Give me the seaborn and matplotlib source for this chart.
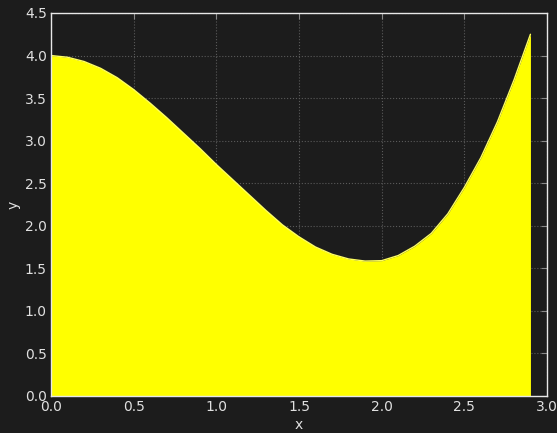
import numpy as np
import matplotlib
matplotlib.use("Agg")
import matplotlib.pyplot as plt
import seaborn as sns

x = [0.0, 0.1, 0.2, 0.3, 0.4, 0.5, 0.6, 0.7, 0.8, 0.9,
     1.0, 1.1, 1.2, 1.3, 1.4, 1.5, 1.6, 1.7, 1.8, 1.9,
     2.0, 2.1, 2.2, 2.3, 2.4, 2.5, 2.6, 2.7, 2.8, 2.9]
y = [4.00, 3.98, 3.93, 3.85, 3.74, 3.60, 3.44, 3.27, 3.09, 2.91,
     2.72, 2.54, 2.36, 2.18, 2.01, 1.87, 1.75, 1.665, 1.61, 1.585,
     1.59, 1.65, 1.76, 1.91, 2.14, 2.45, 2.80, 3.22, 3.71, 4.25]

bg = "#1c1c1c"
fg = "#e0e0e0"

sns.set_theme(style="dark", rc={
    "figure.facecolor": bg,
    "axes.facecolor": bg,
    "axes.edgecolor": "#e8e8e8",
    "axes.labelcolor": fg,
    "xtick.color": fg,
    "ytick.color": fg,
    "text.color": fg,
    "grid.color": "#5a5a5a",
    "grid.linestyle": ":",
    "grid.linewidth": 0.8,
})
plt.rcParams["font.family"] = ["DejaVu Sans"]

fig = plt.figure(figsize=(5.57, 4.33), dpi=100)
ax = fig.add_axes([0.0916, 0.0855, 0.8904, 0.8845])

ax.fill_between(x, y, 0, color="#ffff00", linewidth=0)
sns.lineplot(x=x, y=y, ax=ax, color="#ffff60", linewidth=1.0)

ax.set_xlim(0, 3.0)
ax.set_ylim(0, 4.5)
ax.set_xticks(np.arange(0, 3.01, 0.5))
ax.set_yticks(np.arange(0, 4.51, 0.5))
ax.xaxis.set_major_formatter(matplotlib.ticker.FormatStrFormatter("%.1f"))
ax.yaxis.set_major_formatter(matplotlib.ticker.FormatStrFormatter("%.1f"))
ax.grid(True)
ax.tick_params(direction="in", length=4, width=0.8, labelsize=10,
               top=True, right=True, color="#888888", pad=3)
for s in ax.spines.values():
    s.set_linewidth(1.0)
    s.set_color("#e8e8e8")
ax.set_xlabel("x", fontsize=10, labelpad=3)
ax.set_ylabel("y", fontsize=10, labelpad=3)

fig.savefig("out.png", dpi=100, facecolor=bg)
